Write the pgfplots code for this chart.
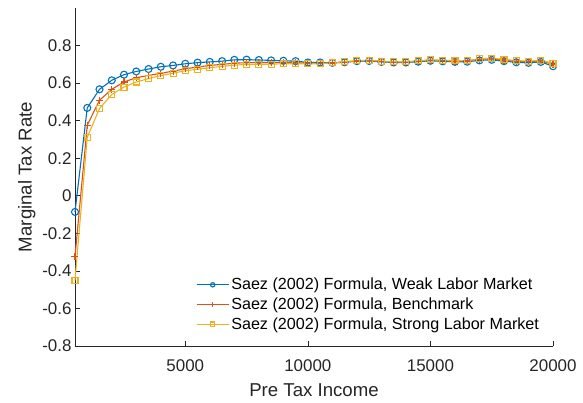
\documentclass[border=0pt]{standalone}
\usepackage{pgfplots}
\pgfplotsset{compat=1.18}
\usepackage{pgfplotstable}
\usepackage{fontspec}
\setmainfont{Liberation Sans}

\definecolor{mblue}{rgb}{0,0.447,0.741}
\definecolor{morange}{rgb}{0.850,0.325,0.098}
\definecolor{myellow}{rgb}{0.929,0.694,0.125}
\definecolor{axgray}{rgb}{0.15,0.15,0.15}

% pre-tax income, marginal tax rate: weak / benchmark / strong labor market
\pgfplotstableread{
x      weak    bench   strong
500    -0.086  -0.325  -0.450
1000   0.468   0.376   0.311
1500   0.567   0.509   0.465
2000   0.615   0.567   0.539
2500   0.645   0.606   0.579
3000   0.662   0.629   0.606
3500   0.675   0.641   0.624
4000   0.687   0.652   0.640
4500   0.694   0.664   0.653
5000   0.703   0.676   0.666
5500   0.709   0.686   0.674
6000   0.713   0.694   0.682
6500   0.717   0.700   0.689
7000   0.724   0.706   0.696
7500   0.725   0.709   0.699
8000   0.723   0.710   0.700
8500   0.721   0.710   0.701
9000   0.719   0.710   0.703
9500   0.717   0.709   0.703
10000  0.710   0.706   0.703
10500  0.710   0.705   0.703
11000  0.708   0.707   0.708
11500  0.711   0.712   0.714
12000  0.717   0.718   0.720
12500  0.718   0.720   0.722
13000  0.713   0.715   0.717
13500  0.710   0.712   0.714
14000  0.710   0.712   0.714
14500  0.714   0.717   0.719
15000  0.719   0.722   0.724
15500  0.716   0.720   0.722
16000  0.713   0.717   0.719
16500  0.714   0.718   0.720
17000  0.721   0.727   0.729
17500  0.724   0.730   0.733
18000  0.717   0.723   0.726
18500  0.711   0.717   0.720
19000  0.708   0.714   0.717
19500  0.713   0.719   0.722
20000  0.690   0.700   0.705
}\taxdata

\begin{document}
\begin{tikzpicture}
\useasboundingbox (-75bp,-57bp) rectangle (508bp,346bp);
\begin{axis}[
  at={(0,0)}, anchor=south west,
  scale only axis, width=478bp, height=338bp,
  xmin=500, xmax=20000, ymin=-0.8, ymax=1,
  clip=false,
  axis x line*=bottom, axis y line*=left,
  axis line style={draw=axgray, line width=0.6bp, -},
  tick align=inside, major tick length=5bp,
  tick style={draw=axgray, line width=0.6bp},
  xtick={5000,10000,15000,20000},
  ytick={-0.8,-0.6,-0.4,-0.2,0,0.2,0.4,0.6,0.8},
  scaled ticks=false,
  /pgf/number format/assume math mode=true,
  /pgf/number format/1000 sep={},
  yticklabel style={/pgf/number format/fixed, /pgf/number format/precision=1},
  xticklabel style={anchor=base, yshift=-25bp},
  tick label style={font=\fontsize{17}{20}\selectfont, text=axgray},
  label style={font=\fontsize{18.7}{22}\selectfont, text=axgray},
  xlabel={Pre Tax Income},
  xlabel style={at={(axis description cs:0.5,0)}, anchor=base, yshift=-50bp},
  ylabel={Marginal Tax Rate},
  legend style={at={(0.251,0.21)}, anchor=north west, draw=none, fill=none,
    font=\fontsize{16.2}{19}\selectfont, text=black, row sep=2.5bp, inner sep=1bp},
  legend cell align=left,
  legend image code/.code={\draw[mark repeat=2, mark phase=2, mark size=2.2bp]
    plot coordinates {(0bp,0bp) (16bp,0bp) (32bp,0bp)};},
  every axis plot/.append style={line width=1.1bp},
]
\addplot[mblue, mark=o, mark size=3.5bp] table[x=x, y=weak] {\taxdata};
\addlegendentry{Saez (2002) Formula, Weak Labor Market}
\addplot[morange, mark=+, mark size=3.5bp] table[x=x, y=bench] {\taxdata};
\addlegendentry{Saez (2002) Formula, Benchmark}
\addplot[myellow, mark=square, mark size=3bp] table[x=x, y=strong] {\taxdata};
\addlegendentry{Saez (2002) Formula, Strong Labor Market}
\end{axis}
\end{tikzpicture}
\end{document}
